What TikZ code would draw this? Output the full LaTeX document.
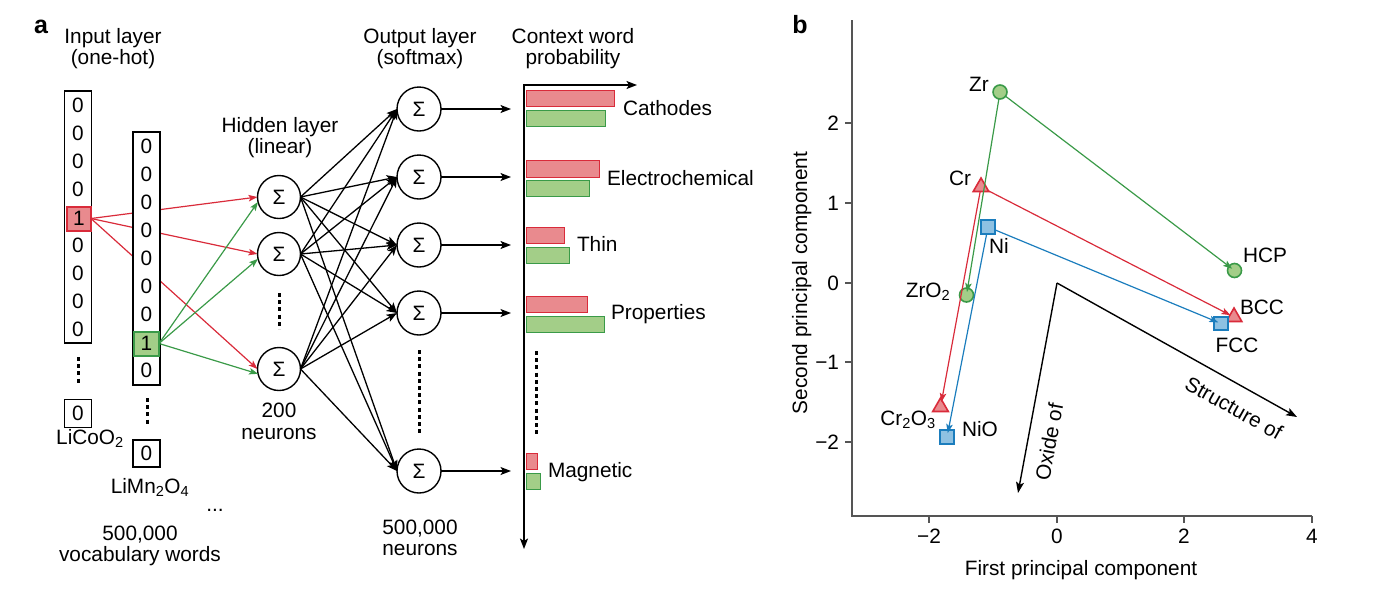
\documentclass[tikz,border=0pt]{standalone}
\usepackage{fontspec}
\setmainfont{Liberation Sans}
\usetikzlibrary{arrows.meta,shapes.geometric}
\definecolor{redl}{HTML}{E98A8E}
\definecolor{redd}{HTML}{D92B3A}
\definecolor{greenl}{HTML}{A3CE88}
\definecolor{greend}{HTML}{3A9A48}
\definecolor{bluel}{HTML}{8EC1E2}
\definecolor{blued}{HTML}{1B7DBD}
\definecolor{axgray}{HTML}{555555}
\newcommand{\fs}{\fontsize{20.8}{21}\selectfont}
\begin{document}
\begin{tikzpicture}[x=1pt,y=-1pt,
  every node/.style={font=\fs, inner sep=0pt, outer sep=0pt},
  colbox/.style={draw, line width=1.4pt, fill=white, minimum width=27pt},
  neuron/.style={circle, draw, line width=1.4pt, fill=white, minimum size=43pt},
  vdots/.style={line width=3pt, dash pattern=on 4pt off 3.2pt},
  blkarr/.style={line width=1.3pt, -{Stealth[length=10.5pt,width=8pt,inset=2.5pt]}},
  redarr/.style={draw=redd, line width=1.2pt, -{Stealth[length=9pt,width=6.5pt,inset=2pt]}},
  grnarr/.style={draw=greend, line width=1.2pt, -{Stealth[length=9pt,width=6.5pt,inset=2pt]}},
  bluarr/.style={draw=blued, line width=1.2pt, -{Stealth[length=9pt,width=6.5pt,inset=2pt]}},
  rbar/.style={draw=redd, fill=redl, line width=1pt},
  gbar/.style={draw=greend, fill=greenl, line width=1pt},
  lbl/.style={anchor=base},
  axis/.style={draw=axgray, line width=1.2pt},
  gcirc/.style={circle, draw=greend, fill=greenl, line width=1.6pt, minimum size=14pt},
  rtri/.style={regular polygon, regular polygon sides=3, draw=redd, fill=redl, line width=1.6pt, minimum size=18pt},
  bsq/.style={rectangle, draw=blued, fill=bluel, line width=1.6pt, minimum size=13.5pt},
  bigarr/.style={line width=1.4pt, -{Stealth[length=11pt,width=8pt,inset=2.5pt]}}
]
\useasboundingbox (0,0) rectangle (1380,590);

% ---------- panel a ----------
\node[lbl, font=\fontsize{25}{25}\selectfont\bfseries] (pa) at (41,33) {a};
\node[lbl] (t1a) at (113,43.5) {Input layer};
\node[lbl] (t1b) at (113,64.5) {(one-hot)};
\node[lbl] (t2a) at (280,132) {Hidden layer};
\node[lbl] (t2b) at (280,153) {(linear)};
\node[lbl] (t3a) at (420,43.5) {Output layer};
\node[lbl] (t3b) at (420,64.5) {(softmax)};
\node[lbl] (t4a) at (573,43.5) {Context word};
\node[lbl] (t4b) at (573,64.5) {probability};

% column 1
\node[colbox, minimum height=252pt] (c1) at (78,217) {};
\foreach \yy [count=\i] in {105,133,161,189,245,273,301,329}
  \node (d1-\i) at (78,\yy) {0};
\node[draw=redd, fill=redl, line width=2pt, minimum width=24pt, minimum height=24pt] (r1) at (79,218.5) {1};
\draw[vdots] (78,357) -- (78,384);
\node[colbox, minimum height=28pt] (b1) at (78,413.5) {0};
\node[lbl] (n1) at (90,444) {LiCoO\textsubscript{2}};

% red arrows
\foreach \h/\yy in {1/197,2/254,3/369}
  \coordinate (hr\h) at (257.5,\yy);
\foreach \h in {1,2,3}
  \draw[redarr] (r1.east) -- (hr\h);

% column 2
\node[colbox, minimum height=253pt] (c2) at (146.5,258.5) {};
\foreach \yy [count=\i] in {146,174,202,230,258,286,314,370}
  \node (d2-\i) at (146.5,\yy) {0};
\node[draw=greend, fill=greenl, line width=2pt, minimum width=25pt, minimum height=24pt] (g1) at (146.5,343.5) {1};
\draw[vdots] (147,398) -- (147,425);
\node[colbox, minimum height=27pt] (b2) at (146.5,453.5) {0};
\node[lbl] (n2) at (150,493) {LiMn\textsubscript{2}O\textsubscript{4}};
\node[lbl] (n3) at (215,511) {...};
\node[lbl] (n4) at (140,540) {500,000};
\node[lbl] (n5) at (140,561) {vocabulary words};

% hidden layer
\node[neuron] (h1) at (279,197) {Σ};
\node[neuron] (h2) at (279,254) {Σ};
\node[neuron] (h3) at (279,369) {Σ};
\draw[vdots] (279,293) -- (279,329);
\node[lbl] (t5a) at (279,417) {200};
\node[lbl] (t5b) at (279,439) {neurons};

\foreach \h in {1,2,3}
  \draw[grnarr] (g1.east) -- (h\h.193);

% output layer
\node[neuron, minimum size=44pt] (o1) at (419,109) {Σ};
\node[neuron, minimum size=44pt] (o2) at (419,177) {Σ};
\node[neuron, minimum size=44pt] (o3) at (419,245) {Σ};
\node[neuron, minimum size=44pt] (o4) at (419,313) {Σ};
\node[neuron, minimum size=44pt] (o5) at (419,471) {Σ};
\draw[vdots] (419,350) -- (419,436);
\node[lbl] (t6a) at (420,534) {500,000};
\node[lbl] (t6b) at (420,555) {neurons};

\foreach \h in {1,2,3}
  \foreach \o in {1,2,3,4,5}
    \draw[blkarr] (h\h.east) -- (o\o.west);

% to bars
\foreach \o/\yy in {1/109,2/177,3/245,4/313,5/471} {
  \coordinate (e\o) at (511,\yy);
  \draw[blkarr] (o\o.east) -- (e\o);
}

% probability axes
\coordinate (axr) at (637,85);
\coordinate (axc) at (524,85);
\coordinate (axd) at (524,549);
\draw[line width=1.5pt, {Stealth[length=10.5pt,width=8pt,inset=2.5pt]}-{Stealth[length=10.5pt,width=8pt,inset=2.5pt]}] (axr) -- (axc) -- (axd);

\draw[rbar] (526,90) rectangle (614,106);
\draw[gbar] (526,110) rectangle (605,126);
\draw[rbar] (526,160) rectangle (599,177);
\draw[gbar] (526,180) rectangle (589,196);
\draw[rbar] (526,227) rectangle (564,243);
\draw[gbar] (526,247) rectangle (569,263);
\draw[rbar] (526,296) rectangle (587,312);
\draw[gbar] (526,316) rectangle (604,332);
\draw[rbar] (526,453) rectangle (537,469);
\draw[gbar] (526,473) rectangle (540,489);
\draw[vdots] (536,351) -- (536,437);

\node[anchor=base west] (w1) at (623,115) {Cathodes};
\node[anchor=base west] (w2) at (607,185) {Electrochemical};
\node[anchor=base west] (w3) at (577,251) {Thin};
\node[anchor=base west] (w4) at (611,319) {Properties};
\node[anchor=base west] (w5) at (548,477) {Magnetic};

% ---------- panel b ----------
\node[lbl, font=\fontsize{25}{25}\selectfont\bfseries] (pb) at (800,33) {b};
\draw[axis] (852,20) -- (852,516) -- (1312,516);
\foreach \yy/\lab [count=\i] in {123/2,203/1,283/0,362/−1,442/−2} {
  \draw[axis] (845,\yy) -- (852,\yy);
  \node[anchor=base east] (yt\i) at (839,\yy+7) {\lab};
}
\foreach \xx/\lab [count=\i] in {929/−2,1057/0,1184/2,1312/4} {
  \draw[axis] (\xx,516) -- (\xx,523);
  \node[lbl] (xt\i) at (\xx,543) {\lab};
}
\node[lbl] (xl) at (1081,575) {First principal component};
\node[anchor=base, rotate=90] (yl) at (807,283) {Second principal component};

% markers
\node[gcirc] (Zr) at (1000,92) {};
\node[gcirc] (HCP) at (1234.5,270.5) {};
\node[gcirc] (ZrO) at (966.5,295) {};
\node[rtri] (Cr) at (981,187) {};
\node[rtri] (BCC) at (1234,317) {};
\node[rtri] (CrO) at (940.5,407) {};
\node[bsq] (Ni) at (988,227) {};
\node[bsq] (FCC) at (1221,323.5) {};
\node[bsq] (NiO) at (947,437) {};

% labels
\node[lbl] (lZr) at (979,91) {Zr};
\node[lbl] (lHCP) at (1265,262) {HCP};
\node[lbl] (lCr) at (960,185) {Cr};
\node[lbl] (lBCC) at (1262,314) {BCC};
\node[lbl] (lNi) at (999,253) {Ni};
\node[lbl] (lFCC) at (1237,352) {FCC};
\node[lbl] (lZrO) at (928,297) {ZrO\textsubscript{2}};
\node[lbl] (lCrO) at (908,425) {Cr\textsubscript{2}O\textsubscript{3}};
\node[lbl] (lNiO) at (980,436) {NiO};

% arrows
\draw[grnarr, shorten >=3pt] (Zr) -- (HCP.center);
\draw[grnarr, shorten >=3pt] (Zr) -- (ZrO.center);
\draw[redarr, shorten >=4pt] (Cr) -- (BCC.center);
\draw[redarr, shorten >=5pt] (Cr) -- (CrO.center);
\draw[bluarr, shorten >=3pt] (Ni) -- (FCC.center);
\draw[bluarr, shorten >=4pt] (Ni) -- (NiO.center);

% principal directions
\coordinate (org) at (1057,283);
\coordinate (oxe) at (1018,493);
\coordinate (ste) at (1297,417);
\draw[bigarr] (org) -- (oxe);
\draw[bigarr] (org) -- (ste);
\node[rotate=79.5] (tox) at (1049,442) {Oxide of};
\node[rotate=-29.2] (tst) at (1234,408) {Structure of};
\end{tikzpicture}
\end{document}
